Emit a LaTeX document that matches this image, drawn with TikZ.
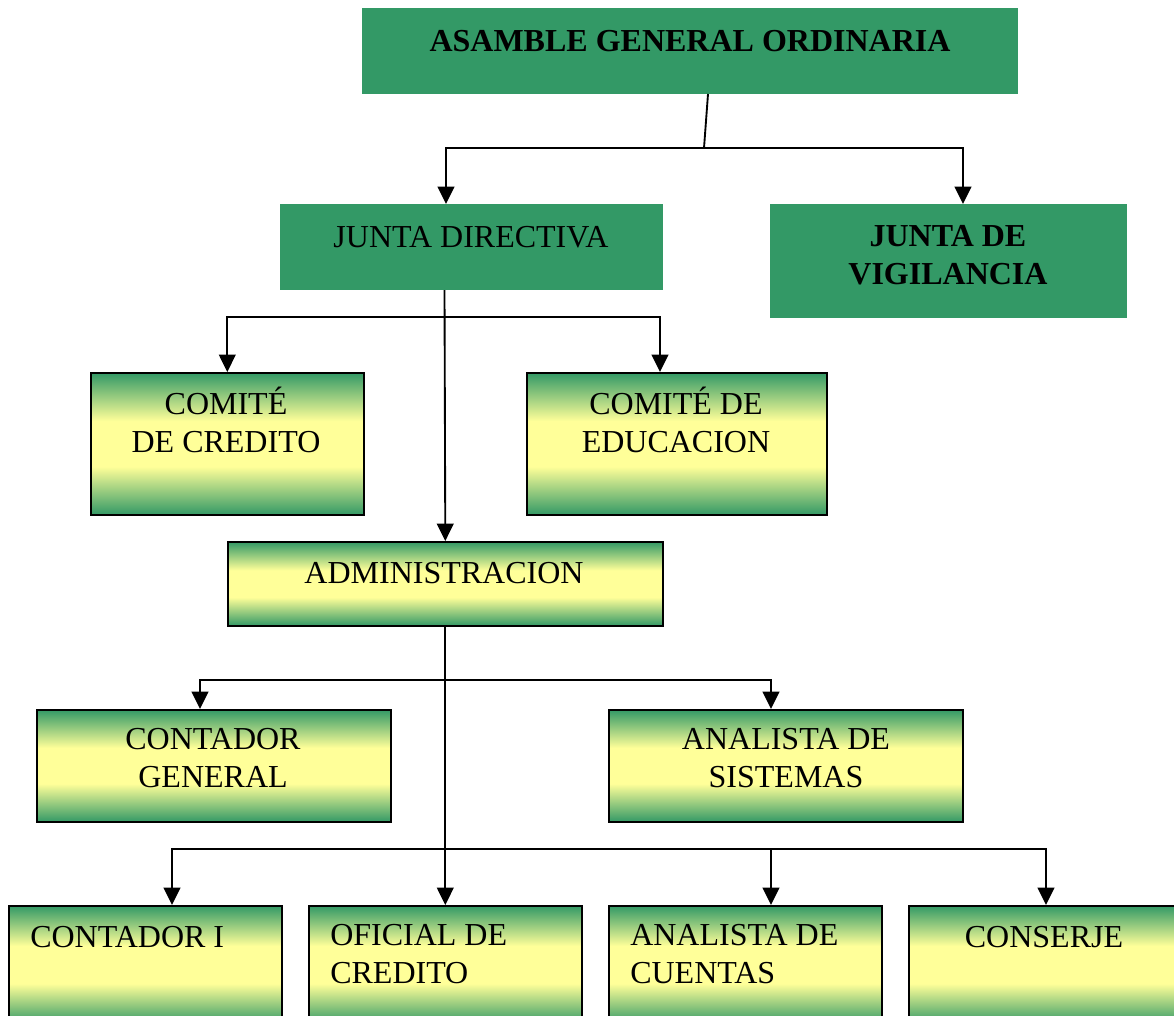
\documentclass[tikz,border=0pt]{standalone}
\usepackage{fontspec}
\setmainfont{Liberation Serif}
\usetikzlibrary{arrows.meta}
\definecolor{boxgreen}{RGB}{51,153,102}
\definecolor{paleyellow}{RGB}{255,255,153}
\pgfdeclareverticalshading{greenyellow}{100bp}{color(0bp)=(boxgreen); color(25bp)=(boxgreen); color(42bp)=(paleyellow); color(58bp)=(paleyellow); color(75bp)=(boxgreen); color(100bp)=(boxgreen)}
\begin{document}
\begin{tikzpicture}[x=0.75pt, y=-0.75pt,
    every node/.style={font=\fontsize{24}{28.5}\selectfont},
    solidbox/.style={rectangle, fill=boxgreen, anchor=north west, inner sep=0pt},
    shadedbox/.style={rectangle, draw=black, line width=1.2pt, shade, shading=greenyellow, anchor=north west, inner sep=0pt},
    lbl/.style={anchor=base, align=center, inner sep=0pt},
    lbll/.style={anchor=base west, align=left, inner sep=0pt},
    line/.style={line width=1.4pt},
    arr/.style={line width=1.4pt, -{Triangle[width=12.5pt,length=13pt]}}]
        \path[use as bounding box] (0,0) rectangle (1174,1015);
        \clip (0,0) rectangle (1174,1015);

        %boxes by coordinates
        \node[solidbox, minimum width=492pt, minimum height=64.5pt] (asm) at (362,8) {};
        \node[solidbox, minimum width=287.25pt, minimum height=64.5pt] (jd) at (280,204) {};
        \node[solidbox, minimum width=267.75pt, minimum height=85.5pt] (jv) at (770,204) {};
        \node[shadedbox, minimum width=204.75pt, minimum height=106.5pt] (cc) at (90,372) {};
        \node[shadedbox, minimum width=225pt, minimum height=106.5pt] (ce) at (526,372) {};
        \node[shadedbox, minimum width=326.25pt, minimum height=63pt] (adm) at (227,541) {};
        \node[shadedbox, minimum width=265.5pt, minimum height=84pt] (cg) at (36,709) {};
        \node[shadedbox, minimum width=265.5pt, minimum height=84pt] (as) at (608,709) {};
        \node[shadedbox, minimum width=204.75pt, minimum height=88.5pt] (c1) at (8,905) {};
        \node[shadedbox, minimum width=204.75pt, minimum height=88.5pt] (oc) at (308,905) {};
        \node[shadedbox, minimum width=204.75pt, minimum height=88.5pt] (ac) at (608,905) {};
        \node[shadedbox, minimum width=210pt, minimum height=88.5pt] (cj) at (908,905) {};

        %texts (base = last line)
        \node[lbl, font=\fontsize{24}{28.5}\selectfont\bfseries] (asm-t) at (690,51) {ASAMBLE GENERAL ORDINARIA};
        \node[lbl] (jd-t) at (471,247) {JUNTA DIRECTIVA};
        \node[lbl, font=\fontsize{24}{28.5}\selectfont\bfseries] (jv-t) at (948,284) {JUNTA DE\\VIGILANCIA};
        \node[lbl] (cc-t) at (226,452) {COMITÉ\\DE CREDITO};
        \node[lbl] (ce-t) at (676,452) {COMITÉ DE\\EDUCACION};
        \node[lbl] (adm-t) at (444,583) {ADMINISTRACION};
        \node[lbl] (cg-t) at (213,787) {CONTADOR\\GENERAL};
        \node[lbl] (as-t) at (786,787) {ANALISTA DE\\SISTEMAS};
        \node[lbll] (c1-t) at (30,947) {CONTADOR I};
        \node[lbll] (oc-t) at (330,983) {OFICIAL DE\\CREDITO};
        \node[lbll] (ac-t) at (630,983) {ANALISTA DE\\CUENTAS};
        \node[lbl] (cj-t) at (1044,947) {CONSERJE};

        %junctions
        \coordinate (a1) at (708,94);
        \coordinate (a2) at (704,148);
        \coordinate (jdin) at (446,204);
        \coordinate (jvin) at (963,204);
        \coordinate (jdout) at (444.5,290);
        \coordinate (b1) at (444.5,317);
        \coordinate (cein) at (660,372);
        \coordinate (b2) at (444.5,680);
        \coordinate (cgin) at (200,709);
        \coordinate (asin) at (771,709);
        \coordinate (b3) at (444.5,849);
        \coordinate (c1in) at (172,905);
        \coordinate (acin) at (771,905);
        \coordinate (cjin) at (1046,905);

        %links
        \draw[line] (a1) -- (a2);
        \draw[arr] (a2) -| (jdin);
        \draw[arr] (a2) -| (jvin);
        \draw[arr] (jdout) -- (adm.north);
        \draw[arr] (b1) -| (cc.north);
        \draw[arr] (b1) -| (cein);
        \draw[arr] (adm.south) -- (oc.north);
        \draw[arr] (b2) -| (cgin);
        \draw[arr] (b2) -| (asin);
        \draw[arr] (b3) -| (c1in);
        \draw[arr] (b3) -| (acin);
        \draw[arr] (b3) -| (cjin);
    \end{tikzpicture}
\end{document}
